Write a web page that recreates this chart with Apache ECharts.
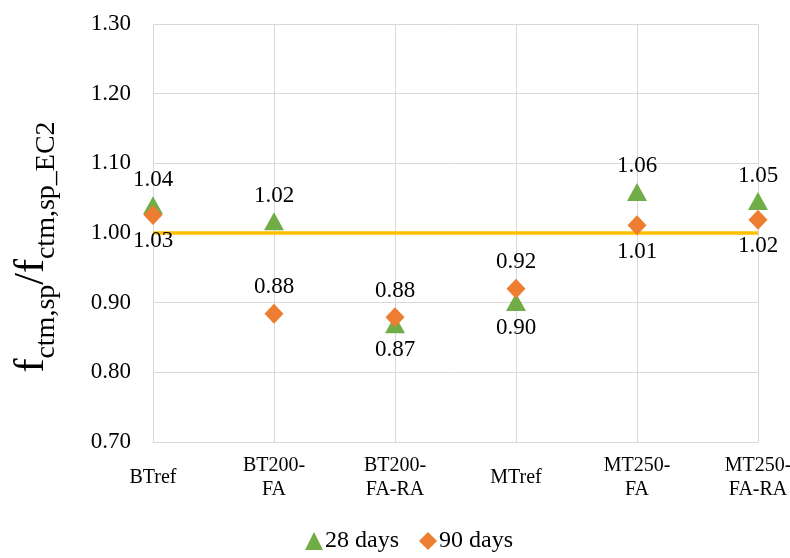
<!DOCTYPE html>
<html>
<head>
<meta charset="utf-8">
<script src="https://cdn.jsdelivr.net/npm/echarts@6/dist/echarts.min.js"></script>
<style>
html,body{margin:0;padding:0;background:#fff;}
#chart{width:790px;height:558px;}
</style>
</head>
<body>
<div id="chart"></div>
<script>
var categories = ['BTref', 'BT200-\nFA', 'BT200-\nFA-RA', 'MTref', 'MT250-\nFA', 'MT250-\nFA-RA'];
var days28 = [1.040, 1.017, 0.869, 0.901, 1.059, 1.046];
var days90 = [1.026, 0.884, 0.879, 0.920, 1.011, 1.019];
var refLine = [1.00, 1.00, 1.00, 1.00, 1.00, 1.00];
// label side per point: true = above
var above28 = [true, true, false, false, true, true];
var above90 = [false, true, true, true, false, false];

var FONT = '"Liberation Serif", "Times New Roman", serif';

function withLabels(vals, above) {
	return vals.map(function (v, i) {
		return { value: v, label: { position: above[i] ? 'top' : 'bottom' } };
	});
}

var chart = echarts.init(document.getElementById('chart'));
var option = {
	animation: false,
	textStyle: { fontFamily: FONT },
	grid: { left: 153, right: 32, top: 24, bottom: 116, containLabel: false, outerBoundsMode: 'none' },
	legend: {
		bottom: 0,
		left: 300,
		itemGap: 20,
		itemWidth: 18,
		itemHeight: 18,
		itemStyle: { opacity: 1 },
		textStyle: { fontFamily: FONT, fontSize: 24, color: '#000', padding: [0, 0, 0, -3] },
		data: [
			{ name: '28 days', icon: 'triangle' },
			{ name: '90 days', icon: 'diamond' }
		]
	},
	xAxis: {
		type: 'category',
		data: categories,
		boundaryGap: false,
		axisLine: { show: true, lineStyle: { color: '#d9d9d9', width: 1 } },
		axisTick: { show: false },
		splitLine: { show: true, lineStyle: { color: '#d9d9d9', width: 1 } },
		axisLabel: {
			margin: 36,
			verticalAlign: 'middle',
			fontFamily: FONT,
			fontSize: 20,
			lineHeight: 24,
			color: '#000',
			interval: 0
		}
	},
	yAxis: {
		type: 'value',
		min: 0.7,
		max: 1.3,
		interval: 0.1,
		axisLine: { show: true, lineStyle: { color: '#d9d9d9' } },
		axisTick: { show: false },
		splitLine: { lineStyle: { color: '#d9d9d9', width: 1 } },
		axisLabel: {
			margin: 22,
			fontFamily: FONT,
			fontSize: 23,
			color: '#000',
			formatter: function (v) { return v.toFixed(2); }
		},
		name: '{f|f}{s|ctm,sp}{f|/f}{s|ctm,sp_EC2}',
		nameLocation: 'middle',
		nameRotate: 90,
		nameGap: 100,
		nameTextStyle: {
			padding: [0, 28, 0, 0],
			rich: {
				f: { fontFamily: FONT, fontSize: 42, color: '#000', verticalAlign: 'bottom', lineHeight: 48 },
				s: { fontFamily: FONT, fontSize: 28, color: '#000', verticalAlign: 'bottom', lineHeight: 30, padding: [0, 0, -8, 0] }
			}
		}
	},
	series: [
		{
			name: 'ref',
			type: 'line',
			data: refLine,
			symbol: 'none',
			silent: true,
			lineStyle: { color: '#ffc000', width: 3.5 },
			z: 1
		},
		{
			name: '28 days',
			type: 'scatter',
			symbol: 'triangle',
			symbolSize: [20, 18],
			itemStyle: { color: '#70ad47', opacity: 1 },
			data: withLabels(days28, above28),
			label: {
				show: true,
				distance: 5,
				fontFamily: FONT,
				fontSize: 23,
				color: '#000',
				formatter: function (p) { return p.value.toFixed(2); }
			},
			z: 3
		},
		{
			name: '90 days',
			type: 'scatter',
			symbol: 'diamond',
			symbolSize: [19, 20],
			itemStyle: { color: '#ed7d31', opacity: 1 },
			data: withLabels(days90, above90),
			label: {
				show: true,
				distance: 5,
				fontFamily: FONT,
				fontSize: 23,
				color: '#000',
				formatter: function (p) { return p.value.toFixed(2); }
			},
			z: 4
		}
	]
};
chart.setOption(option);
</script>
</body>
</html>
